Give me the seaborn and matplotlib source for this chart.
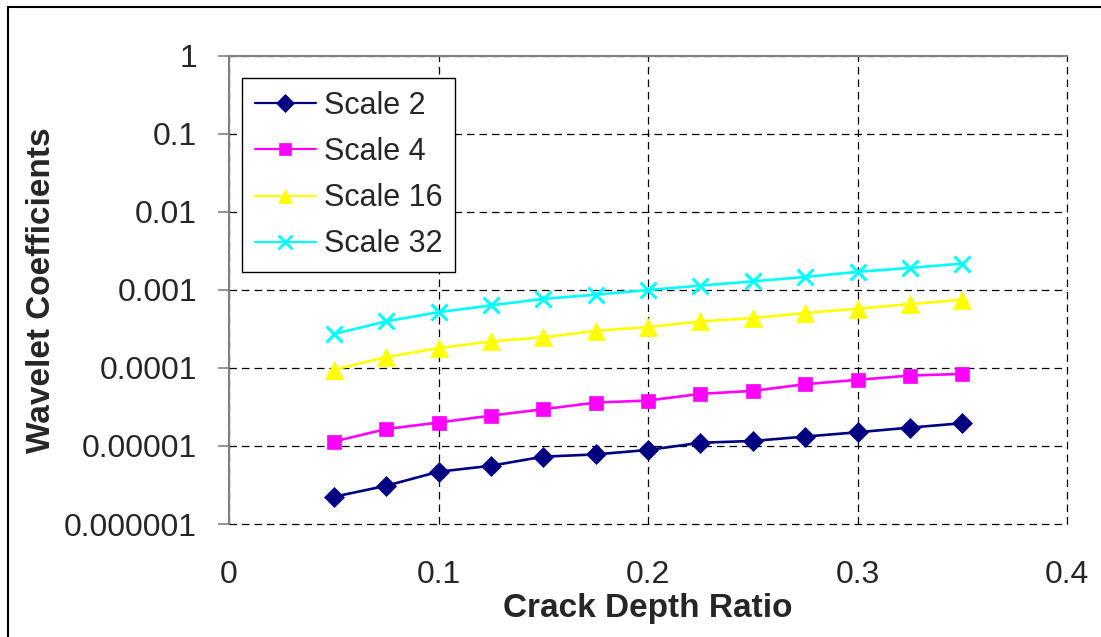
import matplotlib
matplotlib.use("Agg")
import matplotlib.pyplot as plt
from matplotlib.lines import Line2D
from matplotlib.ticker import FixedLocator, FixedFormatter, NullLocator
import seaborn as sns
import pandas as pd

# ---- data ----
crack_depth = [0.05, 0.075, 0.1, 0.125, 0.15, 0.175, 0.2, 0.225, 0.25, 0.275, 0.3, 0.325, 0.35]
scale2 = [2.23e-6, 3.09e-6, 4.68e-6, 5.58e-6, 7.3e-6, 7.8e-6, 8.9e-6, 1.10e-5, 1.16e-5, 1.32e-5, 1.50e-5, 1.72e-5, 1.96e-5]
scale4 = [1.14e-5, 1.65e-5, 2.0e-5, 2.45e-5, 2.96e-5, 3.6e-5, 3.83e-5, 4.66e-5, 5.09e-5, 6.2e-5, 7.05e-5, 8.0e-5, 8.4e-5]
scale16 = [9.5e-5, 1.38e-4, 1.80e-4, 2.19e-4, 2.47e-4, 3.0e-4, 3.35e-4, 3.96e-4, 4.37e-4, 5.07e-4, 5.76e-4, 6.6e-4, 7.5e-4]
scale32 = [2.73e-4, 3.96e-4, 5.2e-4, 6.35e-4, 7.7e-4, 8.7e-4, 1.0e-3, 1.14e-3, 1.29e-3, 1.47e-3, 1.71e-3, 1.92e-3, 2.18e-3]
series_names = ["Scale 2", "Scale 4", "Scale 16", "Scale 32"]
x_ticks = [0, 0.1, 0.2, 0.3, 0.4]
x_tick_labels = ["0", "0.1", "0.2", "0.3", "0.4"]
y_ticks = [1e-6, 1e-5, 1e-4, 1e-3, 1e-2, 1e-1, 1]
y_tick_labels = ["0.000001", "0.00001", "0.0001", "0.001", "0.01", "0.1", "1"]

colors = {"Scale 2": "#000080", "Scale 4": "#FF00FF", "Scale 16": "#FFFF00", "Scale 32": "#00FFFF"}
markers = {"Scale 2": "D", "Scale 4": "s", "Scale 16": "^", "Scale 32": "x"}
msizes = {"Scale 2": 10.5, "Scale 4": 10, "Scale 16": 12.5, "Scale 32": 12}

sns.set_style("white")
plt.rcParams["font.family"] = ["Liberation Sans", "DejaVu Sans"]

fig = plt.figure(figsize=(11.01, 6.37), dpi=100)
ax = fig.add_axes([229 / 1101, 113 / 637, 838 / 1101, 468 / 637])

for name, vals in zip(series_names, [scale2, scale4, scale16, scale32]):
    d = pd.DataFrame({"x": crack_depth, "y": vals})
    mew = 2.2 if name == "Scale 32" else 0.5
    sns.lineplot(data=d, x="x", y="y", color=colors[name], marker=markers[name],
                 markersize=msizes[name], markeredgecolor=colors[name],
                 markerfacecolor=colors[name], markeredgewidth=mew,
                 linewidth=1.9, sort=False, legend=False, ax=ax)

ax.set_yscale("log")
ax.set_xlim(0, 0.4)
ax.set_ylim(1e-6, 1)

ax.xaxis.set_major_locator(FixedLocator(x_ticks))
ax.xaxis.set_major_formatter(FixedFormatter(x_tick_labels))
ax.xaxis.set_minor_locator(NullLocator())
ax.yaxis.set_major_locator(FixedLocator(y_ticks))
ax.yaxis.set_major_formatter(FixedFormatter(y_tick_labels))
ax.yaxis.set_minor_locator(NullLocator())

ax.tick_params(axis="y", which="major", direction="out", length=8, width=1.2,
               color="#808080", labelsize=23, pad=15, left=True)
ax.tick_params(axis="x", which="major", length=0, labelsize=23, pad=26)

ax.grid(True, which="major", color="black", linestyle=(0, (6, 4)), linewidth=0.9)
for gl in ax.get_xgridlines() + ax.get_ygridlines():
    gl.set_clip_on(False)

for side in ["right", "bottom"]:
    ax.spines[side].set_visible(False)
for side in ["left", "top"]:
    ax.spines[side].set_visible(True)
    ax.spines[side].set_color("#808080")
    ax.spines[side].set_linewidth(1.5)

ax.set_xlabel("Crack Depth Ratio", fontsize=24, fontweight="bold")
ax.set_ylabel("Wavelet Coefficients", fontsize=24, fontweight="bold")
ax.xaxis.set_label_coords(0.5, -0.148)
ax.yaxis.set_label_coords(-0.205, 0.5)

handles = [Line2D([], [], color=colors[n], marker=markers[n], markersize=msizes[n] * 0.85,
                  markerfacecolor=colors[n], markeredgecolor=colors[n],
                  markeredgewidth=2.0 if n == "Scale 32" else 0.5, linewidth=1.6)
           for n in series_names]
leg = ax.legend(handles, series_names, loc="upper left", bbox_to_anchor=(0.0155, 0.953),
                borderaxespad=0, fontsize=22, frameon=True, fancybox=False, shadow=False,
                framealpha=1, facecolor="white", edgecolor="black", borderpad=0.42,
                labelspacing=0.53, handlelength=2.0, handletextpad=0.25)
leg.get_frame().set_linewidth(1.0)

# figure border (top and left, as in the reference crop)
fig.add_artist(Line2D([8 / 1101, 1.0], [1 - 7 / 637, 1 - 7 / 637], transform=fig.transFigure,
                      color="black", linewidth=1.5))
fig.add_artist(Line2D([8 / 1101, 8 / 1101], [0.0, 1 - 7 / 637], transform=fig.transFigure,
                      color="black", linewidth=1.5))

fig.savefig("out.png", dpi=100, facecolor="white")
